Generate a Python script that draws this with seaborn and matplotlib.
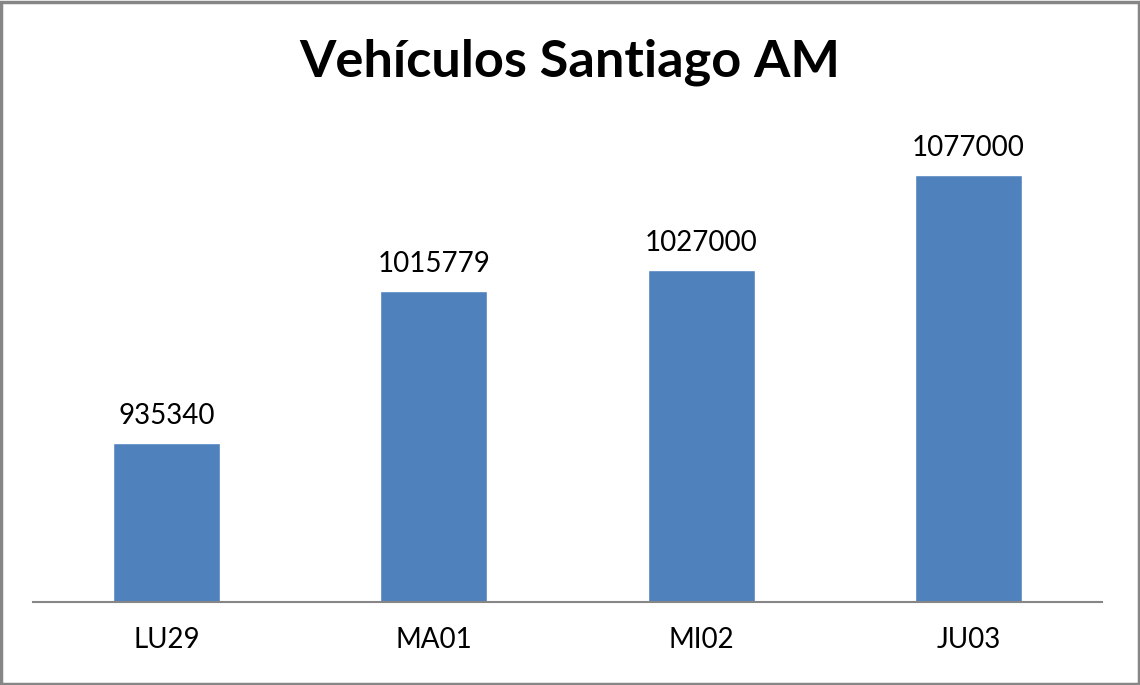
import matplotlib
matplotlib.use("Agg")
import matplotlib.pyplot as plt
import seaborn as sns
import pandas as pd
from matplotlib.patches import Rectangle

categories = ["LU29", "MA01", "MI02", "JU03"]
values = [935340, 1015779, 1027000, 1077000]
title = "Vehículos Santiago AM"

df = pd.DataFrame({"cat": categories, "val": values})

sns.set_theme(style="white")
plt.rcParams["font.family"] = ["Lato", "DejaVu Sans"]

fig = plt.figure(figsize=(11.4, 6.85), dpi=100)
ax = fig.add_axes([33/1140, 83/685, (1102-33)/1140, 470.5/685])
sns.barplot(data=df, x="cat", y="val", color="#4F81BD", saturation=1, width=0.4, ax=ax)
ax.set_ylim(851300, 1100000)
ax.set_xlim(-0.5, 3.5)
for s in ["top", "right", "left"]:
    ax.spines[s].set_visible(False)
ax.spines["bottom"].set_color("#868686")
ax.spines["bottom"].set_linewidth(1.5)
ax.set_yticks([])
ax.set_xlabel("")
ax.set_ylabel("")
ax.tick_params(axis="x", length=0, labelsize=20, pad=18, colors="#000000")
for c in ax.containers:
    ax.bar_label(c, labels=[str(v) for v in values], fontsize=20, padding=10, color="#000000")
fig.text(0.5, 1 - 62/685, title, ha="center", va="center", fontsize=37.7, fontweight="bold", color="#000000")
fig.patches.append(Rectangle((1/1140, 1/685), 1 - 2.5/1140, 1 - 2.5/685, transform=fig.transFigure,
                             fill=False, edgecolor="#868686", linewidth=2.5))
fig.savefig("out.png", dpi=100)
